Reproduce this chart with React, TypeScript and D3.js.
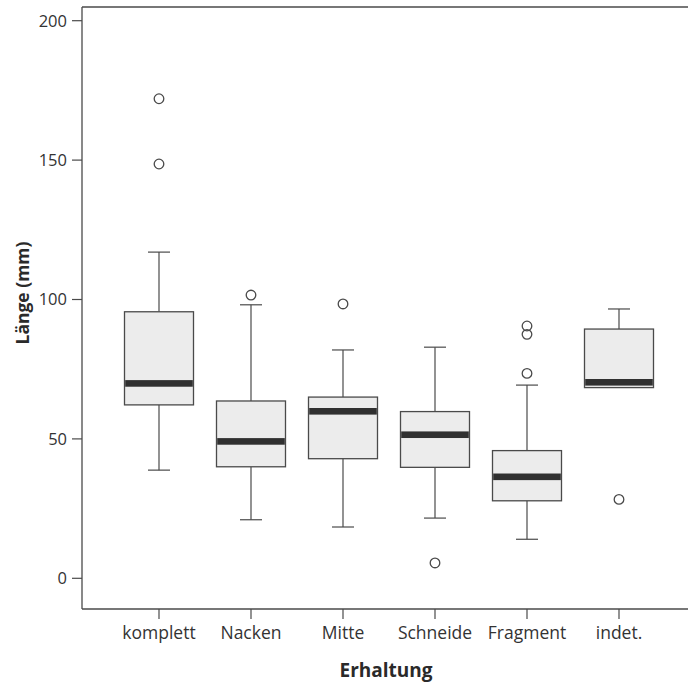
import React from "react";
import * as d3 from "d3";

// Box-plot summary per preservation class (lengths in mm)
const categories = ["komplett", "Nacken", "Mitte", "Schneide", "Fragment", "indet."];
const whiskerLow = [38.8, 21, 18.4, 21.6, 14, 68.4];
const q1 = [62.2, 40, 42.9, 39.8, 27.8, 68.4];
const median = [69.9, 49.1, 59.9, 51.5, 36.4, 70.3];
const q3 = [95.6, 63.6, 65, 59.8, 45.8, 89.4];
const whiskerHigh = [117, 98.1, 81.9, 82.9, 69.3, 96.6];
const outliers: number[][] = [
  [172, 148.6],
  [101.6],
  [98.4],
  [5.5],
  [90.5, 87.5, 73.5],
  [28.3],
];
const yTicks = [0, 50, 100, 150, 200];

const W = 688;
const H = 684;
const left = 82;
const top = 7;
const bottom = 609;
const font = "'Open Sans', 'Noto Sans', sans-serif";
const ink = "#4a4a4a";

export default function App() {
  const y = d3.scaleLinear().domain([0, 200]).range([578.3, 20.7]);
  const x = d3.scalePoint<string>().domain(categories).range([left + 77, left + 77 + 460]);
  const boxW = 69;
  const capW = 22;

  return (
    <svg
      width={W}
      height={H}
      style={{ position: "absolute", left: 0, top: 0, background: "#fff" }}
    >
      {/* frame: top line, left axis, bottom axis */}
      <line x1={left} x2={W} y1={top} y2={top} stroke={ink} strokeWidth={1.3} />
      <line x1={left} x2={left} y1={top} y2={bottom} stroke={ink} strokeWidth={1.3} />
      <line x1={left} x2={W} y1={bottom} y2={bottom} stroke={ink} strokeWidth={1.3} />

      {/* y ticks */}
      {yTicks.map((t) => (
        <g key={t}>
          <line x1={left - 10} x2={left} y1={y(t)} y2={y(t)} stroke={ink} strokeWidth={1.2} />
          <text
            x={left - 15}
            y={y(t)}
            dy="0.36em"
            textAnchor="end"
            fontFamily={font}
            fontSize={16.5}
            fill="#333"
          >
            {t}
          </text>
        </g>
      ))}

      {/* x ticks */}
      {categories.map((c) => (
        <g key={c}>
          <line x1={x(c)} x2={x(c)} y1={bottom} y2={bottom + 10} stroke={ink} strokeWidth={1.2} />
          <text
            x={x(c)}
            y={639}
            textAnchor="middle"
            fontFamily={font}
            fontSize={17.5}
            fill="#333"
          >
            {c}
          </text>
        </g>
      ))}

      {/* boxes */}
      {categories.map((c, i) => {
        const cx = x(c) as number;
        return (
          <g key={c}>
            <line x1={cx} x2={cx} y1={y(q3[i])} y2={y(whiskerHigh[i])} stroke={ink} strokeWidth={1.2} />
            <line x1={cx} x2={cx} y1={y(q1[i])} y2={y(whiskerLow[i])} stroke={ink} strokeWidth={1.2} />
            <line
              x1={cx - capW / 2}
              x2={cx + capW / 2}
              y1={y(whiskerHigh[i])}
              y2={y(whiskerHigh[i])}
              stroke={ink}
              strokeWidth={1.2}
            />
            {whiskerLow[i] < q1[i] && (
              <line
                x1={cx - capW / 2}
                x2={cx + capW / 2}
                y1={y(whiskerLow[i])}
                y2={y(whiskerLow[i])}
                stroke={ink}
                strokeWidth={1.2}
              />
            )}
            <rect
              x={cx - boxW / 2}
              y={y(q3[i])}
              width={boxW}
              height={y(q1[i]) - y(q3[i])}
              fill="#ececec"
              stroke={ink}
              strokeWidth={1.3}
            />
            <rect
              x={cx - boxW / 2 + 0.7}
              y={y(median[i]) - 3.3}
              width={boxW - 1.4}
              height={6.6}
              fill="#303030"
            />
            {outliers[i].map((v, j) => (
              <circle key={j} cx={cx} cy={y(v)} r={4.8} fill="none" stroke={ink} strokeWidth={1.3} />
            ))}
          </g>
        );
      })}

      {/* axis titles */}
      <text
        x={386}
        y={677}
        textAnchor="middle"
        fontFamily={font}
        fontSize={19}
        fontWeight={700}
        fill="#2a2a2a"
      >
        Erhaltung
      </text>
      <text
        transform="translate(29,293) rotate(-90)"
        textAnchor="middle"
        fontFamily={font}
        fontSize={17.5}
        fontWeight={700}
        fill="#2a2a2a"
      >
        Länge (mm)
      </text>
    </svg>
  );
}
